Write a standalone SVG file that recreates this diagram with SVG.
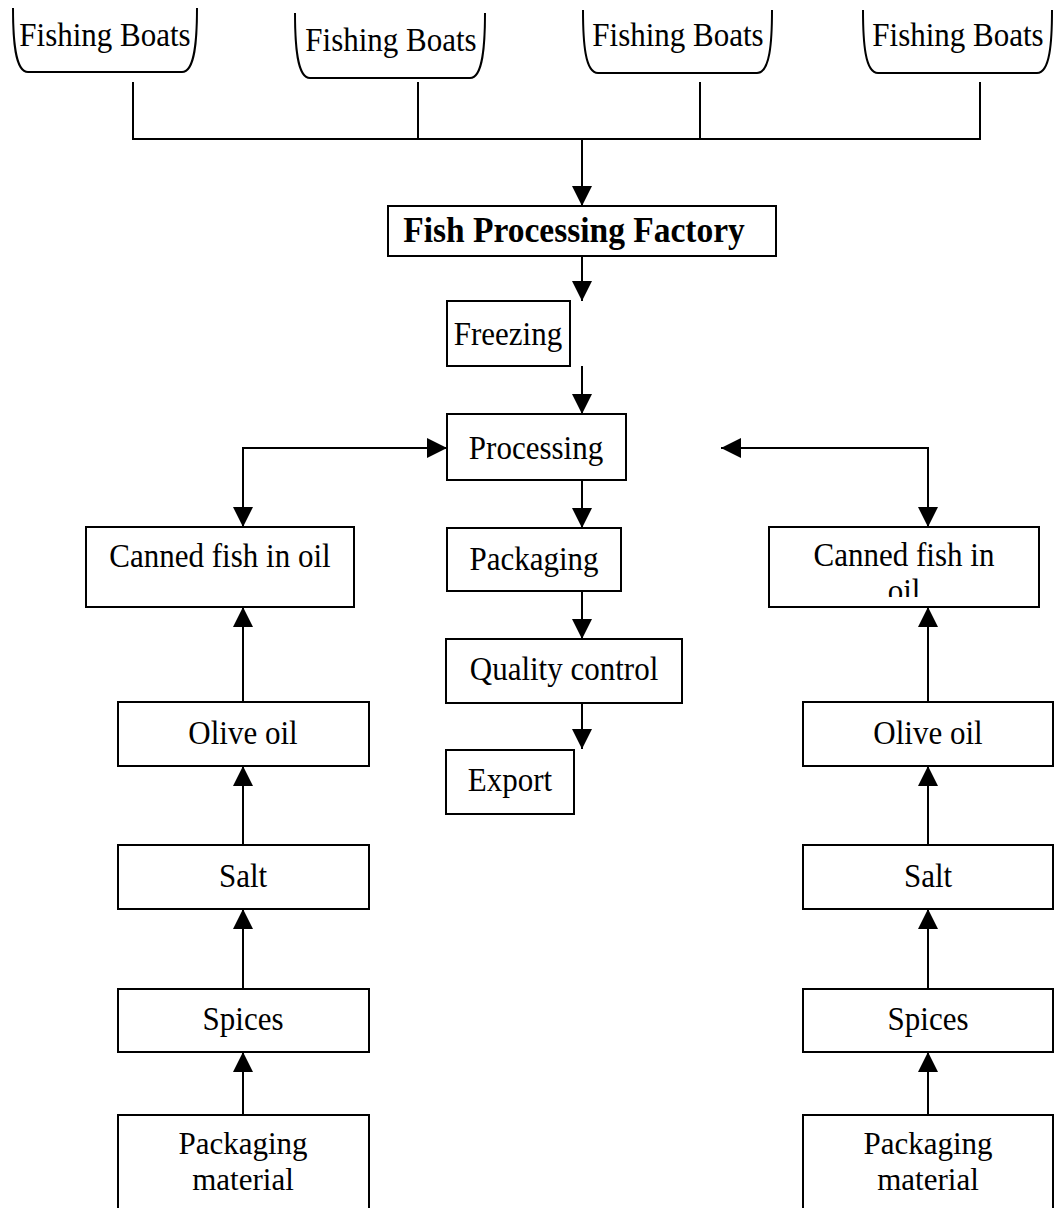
<svg xmlns="http://www.w3.org/2000/svg" width="1061" height="1208" viewBox="0 0 1061 1208">
  <style>
    .box { fill: #fff; stroke: #000; stroke-width: 2; }
    .boat { fill: none; stroke: #000; stroke-width: 2; }
    .lbl { font-family: "Liberation Serif", "Times New Roman", serif; font-size: 31px; fill: #000; text-anchor: middle; }
    .bold { font-weight: bold; font-size: 33.5px; }
    .wire { fill: none; stroke: #000; stroke-width: 2; }
    .arrow { fill: none; stroke: #000; stroke-width: 2; marker-end: url(#head); }
    .both { fill: none; stroke: #000; stroke-width: 2; marker-start: url(#head); marker-end: url(#head); }
  </style>
  <defs>
    <marker id="head" viewBox="0 0 10 10" refX="10" refY="5" markerWidth="20" markerHeight="21" markerUnits="userSpaceOnUse" orient="auto-start-reverse">
      <path d="M0,0 L10,5 L0,10 z" fill="#000"/>
    </marker>
    <clipPath id="clipCanR">
      <rect x="771" y="529" width="266" height="68"/>
    </clipPath>
  </defs>
  <rect width="1061" height="1208" fill="#fff"/>

  <!-- connectors -->
  <g id="connectors">
    <path class="wire" d="M133,82 V139 H980 V82"/>
    <path class="wire" d="M418,82 V139"/>
    <path class="wire" d="M700,82 V139"/>
    <path class="arrow" d="M582,139 V206"/>
    <path class="arrow" d="M582,256 V301"/>
    <path class="arrow" d="M582,366 V414"/>
    <path class="arrow" d="M582,480 V528"/>
    <path class="arrow" d="M582,591 V639"/>
    <path class="arrow" d="M582,703 V749"/>
    <path class="both" d="M447,448 H243 V527"/>
    <path class="both" d="M721,448 H928 V527"/>
    <path class="arrow" d="M243,702 V607"/>
    <path class="arrow" d="M243,845 V766"/>
    <path class="arrow" d="M243,989 V909"/>
    <path class="arrow" d="M243,1115 V1052"/>
    <path class="arrow" d="M928,702 V607"/>
    <path class="arrow" d="M928,845 V766"/>
    <path class="arrow" d="M928,989 V909"/>
    <path class="arrow" d="M928,1115 V1052"/>
  </g>

  <!-- boats -->
  <g id="boat1">
    <path class="boat" d="M13,8 C13,40 15,72 28,72 H182 C195,72 197,40 197,8"/>
    <text class="lbl" transform="translate(105 46) scale(1 1.12)">Fishing Boats</text>
  </g>
  <g id="boat2">
    <path class="boat" d="M295,13 C295,45 297,78 310,78 H470 C483,78 485,45 485,13"/>
    <text class="lbl" transform="translate(391 51) scale(1 1.12)">Fishing Boats</text>
  </g>
  <g id="boat3">
    <path class="boat" d="M583,10 C583,42 585,73 598,73 H757 C770,73 772,42 772,10"/>
    <text class="lbl" transform="translate(678 46) scale(1 1.12)">Fishing Boats</text>
  </g>
  <g id="boat4">
    <path class="boat" d="M863,10 C863,42 865,73 878,73 H1037 C1050,73 1052,42 1052,10"/>
    <text class="lbl" transform="translate(958 46) scale(1 1.12)">Fishing Boats</text>
  </g>

  <!-- main line -->
  <g id="factory">
    <rect class="box" x="388" y="206" width="388" height="50"/>
    <text class="lbl bold" transform="translate(574 242) scale(1 1.06)">Fish Processing Factory</text>
  </g>
  <g id="freezing">
    <rect class="box" x="447" y="301" width="123" height="65"/>
    <text class="lbl" transform="translate(508 345) scale(1 1.12)">Freezing</text>
  </g>
  <g id="processing">
    <rect class="box" x="447" y="414" width="179" height="66"/>
    <text class="lbl" transform="translate(536 459) scale(1 1.12)">Processing</text>
  </g>
  <g id="packaging">
    <rect class="box" x="447" y="528" width="174" height="63"/>
    <text class="lbl" transform="translate(534 570) scale(1 1.12)">Packaging</text>
  </g>
  <g id="quality">
    <rect class="box" x="446" y="639" width="236" height="64"/>
    <text class="lbl" transform="translate(564 680) scale(1 1.12)">Quality control</text>
  </g>
  <g id="export">
    <rect class="box" x="446" y="750" width="128" height="64"/>
    <text class="lbl" transform="translate(510 791) scale(1 1.12)">Export</text>
  </g>

  <!-- left column -->
  <g id="canned-left">
    <rect class="box" x="86" y="527" width="268" height="80"/>
    <text class="lbl" transform="translate(220 567) scale(1 1.12)">Canned fish in oil</text>
  </g>
  <g id="olive-left">
    <rect class="box" x="118" y="702" width="251" height="64"/>
    <text class="lbl" transform="translate(243 744) scale(1 1.12)">Olive oil</text>
  </g>
  <g id="salt-left">
    <rect class="box" x="118" y="845" width="251" height="64"/>
    <text class="lbl" transform="translate(243 887) scale(1 1.12)">Salt</text>
  </g>
  <g id="spices-left">
    <rect class="box" x="118" y="989" width="251" height="63"/>
    <text class="lbl" transform="translate(243 1030) scale(1 1.12)">Spices</text>
  </g>
  <g id="packmat-left">
    <rect class="box" x="118" y="1115" width="251" height="110"/>
    <text class="lbl" x="243" y="1154">Packaging</text>
    <text class="lbl" x="243" y="1190">material</text>
  </g>

  <!-- right column -->
  <g id="canned-right">
    <rect class="box" x="769" y="527" width="270" height="80"/>
    <g clip-path="url(#clipCanR)">
      <text class="lbl" transform="translate(904 566) scale(1 1.12)">Canned fish in</text>
      <text class="lbl" transform="translate(904 602) scale(1 1.12)">oil</text>
    </g>
  </g>
  <g id="olive-right">
    <rect class="box" x="803" y="702" width="250" height="64"/>
    <text class="lbl" transform="translate(928 744) scale(1 1.12)">Olive oil</text>
  </g>
  <g id="salt-right">
    <rect class="box" x="803" y="845" width="250" height="64"/>
    <text class="lbl" transform="translate(928 887) scale(1 1.12)">Salt</text>
  </g>
  <g id="spices-right">
    <rect class="box" x="803" y="989" width="250" height="63"/>
    <text class="lbl" transform="translate(928 1030) scale(1 1.12)">Spices</text>
  </g>
  <g id="packmat-right">
    <rect class="box" x="803" y="1115" width="250" height="110"/>
    <text class="lbl" x="928" y="1154">Packaging</text>
    <text class="lbl" x="928" y="1190">material</text>
  </g>
</svg>
